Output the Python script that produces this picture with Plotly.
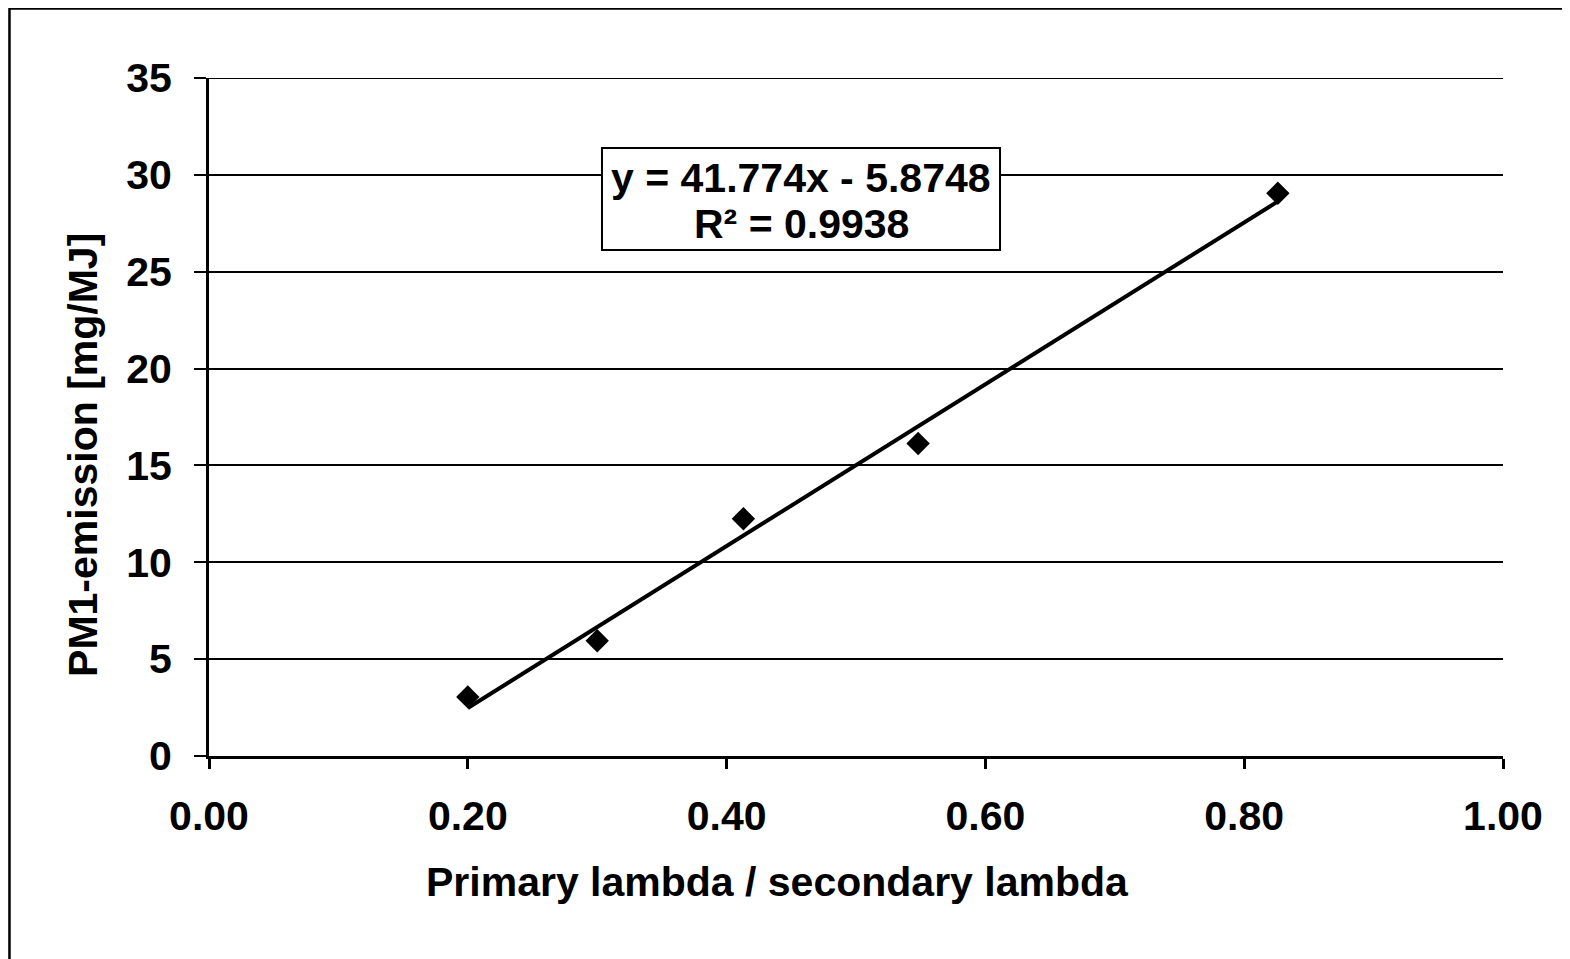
import plotly.graph_objects as go

# Data
lambda_ratio = [0.200, 0.300, 0.413, 0.548, 0.826]
pm1_emission = [3.05, 5.95, 12.25, 16.13, 29.05]

# Trendline (as printed on the chart)
slope = 41.774
intercept = -5.8748
r_squared = 0.9938

x_ticks = [0.0, 0.2, 0.4, 0.6, 0.8, 1.0]
x_ticklabels = ["0.00", "0.20", "0.40", "0.60", "0.80", "1.00"]
y_ticks = [0, 5, 10, 15, 20, 25, 30, 35]

x_title = "Primary lambda / secondary lambda"
y_title = "PM1-emission [mg/MJ]"

FONT = "Liberation Sans, Arial, sans-serif"
FS = 41

trend_x = [min(lambda_ratio), max(lambda_ratio)]
trend_y = [slope * v + intercept for v in trend_x]

fig = go.Figure()
fig.add_trace(go.Scatter(
    x=trend_x, y=trend_y, mode="lines",
    line=dict(color="black", width=4), showlegend=False, hoverinfo="skip"))
fig.add_trace(go.Scatter(
    x=lambda_ratio, y=pm1_emission, mode="markers",
    marker=dict(symbol="diamond", size=18, color="black"), showlegend=False))

# top gridline at the range edge
fig.add_shape(type="line", xref="paper", yref="y", x0=0, x1=1, y0=35, y1=35,
              line=dict(color="black", width=2), layer="above")

# equation box
fig.add_shape(type="rect", xref="paper", yref="paper",
              x0=0.3037, x1=0.6113, y0=0.7463, y1=0.8968,
              line=dict(color="black", width=2), fillcolor="white", layer="above")
fig.add_annotation(
    x=0.4575, y=0.8525, xref="paper", yref="paper",
    text=f"<b>y = {slope}x - {abs(intercept)}</b>",
    showarrow=False, xanchor="center", yanchor="middle",
    font=dict(family=FONT, size=FS, color="black"))
fig.add_annotation(
    x=0.4575, y=0.7847, xref="paper", yref="paper",
    text=f"<b>R² = {r_squared}</b>",
    showarrow=False, xanchor="center", yanchor="middle",
    font=dict(family=FONT, size=FS, color="black"))

# axis titles (positioned like the original chart)
fig.add_annotation(
    x=0.4397, y=-0.1858, xref="paper", yref="paper",
    text=f"<b>{x_title}</b>", showarrow=False,
    xanchor="center", yanchor="middle",
    font=dict(family=FONT, size=FS, color="black"))
fig.add_annotation(
    x=-0.0974, y=0.444, xref="paper", yref="paper",
    text=f"<b>{y_title}</b>", showarrow=False, textangle=-90,
    xanchor="center", yanchor="middle",
    font=dict(family=FONT, size=FS, color="black"))

# outer chart frame
fig.add_shape(type="rect", xref="paper", yref="paper",
              x0=-0.1542, x1=1.3, y0=-0.5, y1=1.1025,
              line=dict(color="black", width=2.5), layer="below")

fig.update_layout(
    width=1562, height=951,
    margin=dict(l=201, r=67, t=70, b=203),
    paper_bgcolor="white", plot_bgcolor="white",
    font=dict(family=FONT, size=FS, color="black"),
    xaxis=dict(
        range=[0, 1], tickvals=x_ticks, ticktext=x_ticklabels,
        showgrid=False, zeroline=False,
        showline=True, linecolor="black", linewidth=3,
        ticks="outside", ticklen=10, tickwidth=3, tickcolor="black",
        ticklabelstandoff=12,
        tickfont=dict(family=FONT, size=FS, color="black", weight="bold"),
    ),
    yaxis=dict(
        range=[0, 35], tickvals=y_ticks,
        showgrid=True, gridcolor="black", gridwidth=2,
        zeroline=False,
        showline=True, linecolor="black", linewidth=3,
        ticks="outside", ticklen=12, tickwidth=2, tickcolor="black",
        ticklabelstandoff=14,
        tickfont=dict(family=FONT, size=FS, color="black", weight="bold"),
    ),
)

fig.write_html("out.html")
